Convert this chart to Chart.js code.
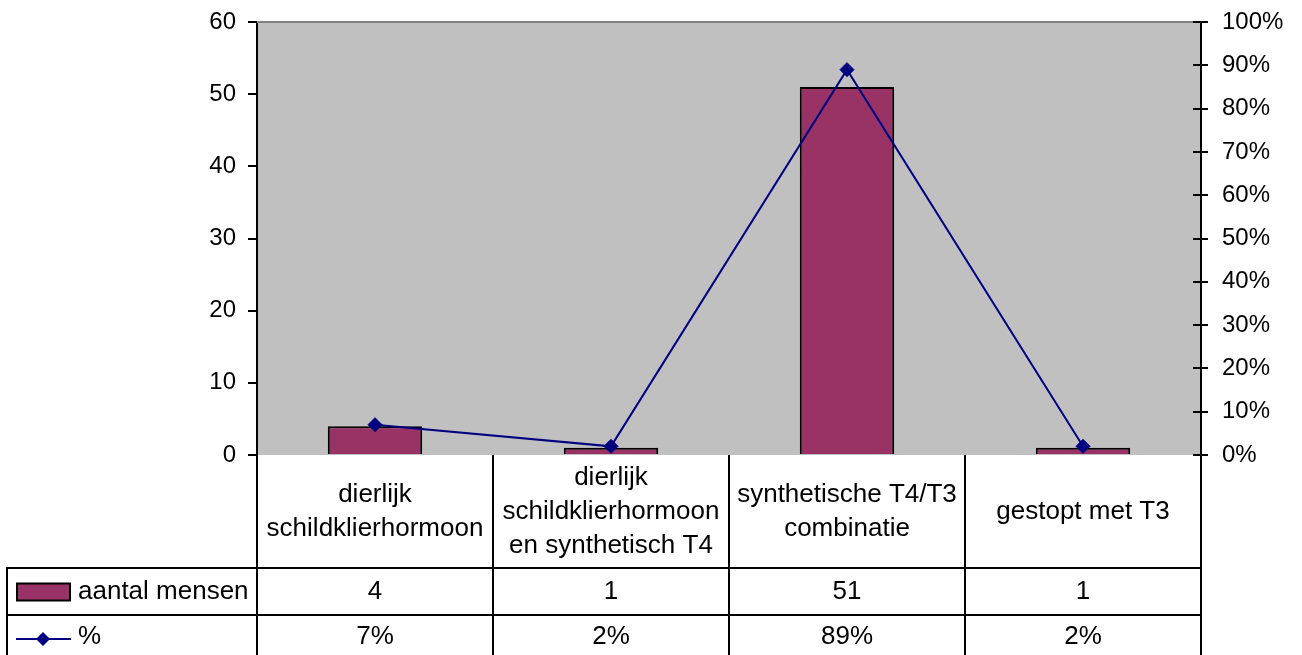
<!DOCTYPE html>
<html>
<head>
<meta charset="utf-8">
<script src="https://cdn.jsdelivr.net/npm/chart.js@4/dist/chart.umd.min.js"></script>
<style>
html,body{margin:0;padding:0;background:#fff;}
#wrap{width:1302px;height:655px;position:relative;}
</style>
</head>
<body>
<div id="wrap"><canvas id="c" width="1302" height="655"></canvas></div>
<script>
const categories = [
  ["dierlijk", "schildklierhormoon"],
  ["dierlijk", "schildklierhormoon", "en synthetisch T4"],
  ["synthetische T4/T3", "combinatie"],
  ["gestopt met T3"]
];
const seriesCountLabel = "aantal mensen";
const seriesPctLabel = "%";
const aantalMensen = [4, 1, 51, 1];
const percentages = [7, 2, 89, 2];
const leftTicks = [0, 10, 20, 30, 40, 50, 60];
const rightTicks = [0, 10, 20, 30, 40, 50, 60, 70, 80, 90, 100];

const FONT = "'Liberation Sans', Arial, sans-serif";
const FS = 24;
const TFS = 26;
const BAR_COLOR = '#993366';
const LINE_COLOR = '#000080';

const tablePlugin = {
  id: 'tablePlugin',
  beforeDraw(chart) {
    const {ctx, chartArea: a} = chart;
    ctx.save();
    ctx.fillStyle = '#C0C0C0';
    ctx.fillRect(a.left, a.top, a.right - a.left, a.bottom - a.top);
    ctx.restore();
  },
  afterDraw(chart) {
    const {ctx, chartArea: a} = chart;
    const n = categories.length;
    const step = (a.right - a.left) / n;
    const row1 = a.bottom + 113, row2 = a.bottom + 160, tableLeft = 7, bottom = 655;
    ctx.save();
    ctx.strokeStyle = '#808080';
    ctx.lineWidth = 2;
    ctx.beginPath(); ctx.moveTo(a.left, a.top); ctx.lineTo(a.right, a.top); ctx.stroke();
    const y1 = chart.scales.y1;
    ctx.strokeStyle = '#000'; ctx.lineWidth = 2;
    rightTicks.forEach(v => {
      const yy = Math.round(y1.getPixelForValue(v));
      ctx.beginPath(); ctx.moveTo(a.right - 8, yy); ctx.lineTo(a.right, yy); ctx.stroke();
    });
    ctx.strokeStyle = '#000'; ctx.lineWidth = 2;
    ctx.beginPath();
    for (let i = 0; i <= n; i++) {
      const x = Math.round(a.left + i * step);
      ctx.moveTo(x, a.bottom); ctx.lineTo(x, bottom);
    }
    ctx.moveTo(tableLeft, row1); ctx.lineTo(a.right, row1);
    ctx.moveTo(tableLeft, row2); ctx.lineTo(a.right, row2);
    ctx.moveTo(tableLeft, row1 - 1); ctx.lineTo(tableLeft, bottom);
    ctx.stroke();
    ctx.fillStyle = '#000';
    ctx.font = TFS + 'px ' + FONT;
    ctx.textAlign = 'center'; ctx.textBaseline = 'middle';
    const lh = 34;
    const midCat = (a.bottom + row1) / 2;
    categories.forEach((lines, i) => {
      const cx = a.left + (i + 0.5) * step;
      const y0 = midCat - (lines.length - 1) * lh / 2;
      lines.forEach((t, j) => ctx.fillText(t, cx, y0 + j * lh));
      ctx.fillText(String(aantalMensen[i]), cx, (row1 + row2) / 2);
      ctx.fillText(percentages[i] + '%', cx, (row2 + bottom) / 2 + 2);
    });
    const my1 = (row1 + row2) / 2, my2 = (row2 + bottom) / 2 + 4;
    ctx.fillStyle = BAR_COLOR;
    ctx.fillRect(17, my1 - 8, 53, 17);
    ctx.strokeStyle = '#000'; ctx.lineWidth = 2;
    ctx.strokeRect(17, my1 - 8, 53, 17);
    ctx.strokeStyle = LINE_COLOR; ctx.lineWidth = 2;
    ctx.beginPath(); ctx.moveTo(16, my2); ctx.lineTo(71, my2); ctx.stroke();
    ctx.fillStyle = LINE_COLOR;
    ctx.beginPath();
    ctx.moveTo(43 - 7, my2); ctx.lineTo(43, my2 - 7); ctx.lineTo(43 + 7, my2); ctx.lineTo(43, my2 + 7); ctx.closePath(); ctx.fill();
    ctx.fillStyle = '#000';
    ctx.textAlign = 'left';
    ctx.fillText(seriesCountLabel, 78, my1);
    ctx.fillText(seriesPctLabel, 78, (row2 + bottom) / 2 + 2);
    ctx.restore();
  }
};

function fitAxis(w) {
  return function (s) { s.width = w; s.paddingTop = 0; s.paddingBottom = 0; };
}

new Chart(document.getElementById('c'), {
  type: 'bar',
  data: {
    labels: categories,
    datasets: [
      {
        type: 'line', label: seriesPctLabel, data: percentages, yAxisID: 'y1',
        borderColor: LINE_COLOR, backgroundColor: LINE_COLOR, borderWidth: 2,
        pointStyle: 'rectRot', pointRadius: 7, pointBorderWidth: 1, tension: 0, order: 0
      },
      {
        type: 'bar', label: seriesCountLabel, data: aantalMensen, yAxisID: 'y',
        backgroundColor: BAR_COLOR, borderColor: '#000', borderWidth: 2,
        categoryPercentage: 1, barPercentage: 0.4, order: 1
      }
    ]
  },
  options: {
    responsive: false, animation: false,
    layout: {padding: {top: 22, bottom: 200, left: 0, right: 0}},
    plugins: {legend: {display: false}, tooltip: {enabled: false}},
    scales: {
      x: {display: false},
      y: {
        position: 'left', min: 0, max: 60,
        afterFit: fitAxis(257),
        afterBuildTicks(s) { s.ticks = leftTicks.map(v => ({value: v})); },
        grid: {drawOnChartArea: false, drawTicks: true, tickLength: 9, color: '#000', lineWidth: 2},
        border: {color: '#000', width: 2},
        ticks: {font: {family: FONT, size: FS}, color: '#000', padding: 12}
      },
      y1: {
        position: 'right', min: 0, max: 100,
        afterFit: fitAxis(101),
        afterBuildTicks(s) { s.ticks = rightTicks.map(v => ({value: v})); },
        grid: {drawOnChartArea: false, drawTicks: true, tickLength: 7, color: '#000', lineWidth: 2},
        border: {color: '#000', width: 2},
        ticks: {font: {family: FONT, size: FS}, color: '#000', padding: 14, callback: v => v + '%'}
      }
    }
  },
  plugins: [tablePlugin]
});
</script>
</body>
</html>
